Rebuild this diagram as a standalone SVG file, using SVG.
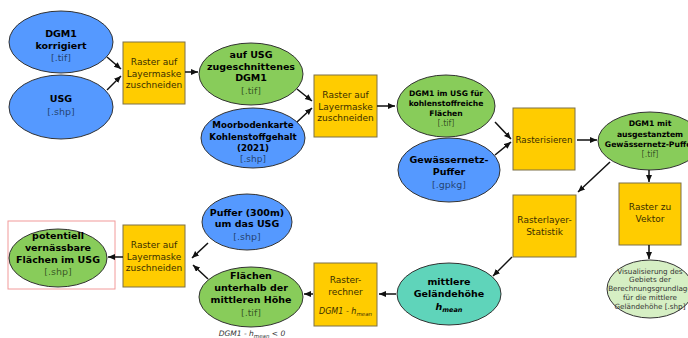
<svg xmlns="http://www.w3.org/2000/svg" width="688" height="338" viewBox="0 0 688 338">
<style>
text{font-family:"DejaVu Sans",Verdana,sans-serif;text-anchor:middle}
.b{font-weight:bold;fill:#000;font-size:9.5px}
.s{font-size:9.5px;fill:#000;fill-opacity:0.6}
.bl{fill:#5599ff;stroke:#333;stroke-width:1}
.gr{fill:#88cc5a;stroke:#333;stroke-width:1}
.tq{fill:#5fd4ba;stroke:#333;stroke-width:1}
.lg{fill:#d6efc4;stroke:#333;stroke-width:1}
.bx{fill:#ffcc00;stroke:#7d7048;stroke-width:1}
.bt{font-size:9px;fill:#3a2e00}
.c line{stroke:#111;stroke-width:1.5;marker-end:url(#a)}
</style>
<defs>
<marker id="a" markerUnits="userSpaceOnUse" markerWidth="8" markerHeight="7" refX="7" refY="3" orient="auto"><path d="M0,0 L7,3 L0,6 z" fill="#111"/></marker>
</defs>
<g id="n1"><ellipse class="bl" cx="61" cy="42" rx="52" ry="31"/><text class="b" x="61" y="37">DGM1</text><text class="b" x="61" y="49">korrigiert</text><text class="s" x="61" y="61">[.tif]</text></g>
<g id="n2"><ellipse class="bl" cx="61" cy="107" rx="52" ry="32"/><text class="b" x="61" y="102">USG</text><text class="s" x="61" y="115">[.shp]</text></g>
<g id="b1"><rect class="bx" x="123" y="42" width="62" height="62"/><text class="bt" x="154" y="65">Raster auf</text><text class="bt" x="154" y="77">Layermaske</text><text class="bt" x="154" y="88">zuschneiden</text></g>
<g id="n3"><ellipse class="gr" cx="251" cy="74" rx="52" ry="31"/><text class="b" x="251" y="58">auf USG</text><text class="b" x="251" y="70">zugeschnittenes</text><text class="b" x="251" y="81">DGM1</text><text class="s" x="251" y="94">[.tif]</text></g>
<g id="n4"><ellipse class="bl" cx="253" cy="138" rx="52" ry="30"/><text class="b" x="253" y="128" style="font-size:8.7px">Moorbodenkarte</text><text class="b" x="253" y="140" style="font-size:8.7px">Kohlenstoffgehalt</text><text class="b" x="253" y="151" style="font-size:8.7px">(2021)</text><text class="s" x="253" y="162" style="font-size:9px">[.shp]</text></g>
<g id="b2"><rect class="bx" x="314" y="75" width="63" height="62"/><text class="bt" x="345.5" y="98">Raster auf</text><text class="bt" x="345.5" y="110">Layermaske</text><text class="bt" x="345.5" y="121">zuschneiden</text></g>
<g id="n5"><ellipse class="gr" cx="446" cy="106" rx="49" ry="31"/><text class="b" x="446" y="96" style="font-size:7.6px">DGM1 im USG für</text><text class="b" x="446" y="106" style="font-size:7.6px">kohlenstoffreiche</text><text class="b" x="446" y="116" style="font-size:7.6px">Flächen</text><text class="s" x="446" y="126" style="font-size:8px">[.tif]</text></g>
<g id="n6"><ellipse class="bl" cx="449" cy="170" rx="51" ry="32"/><text class="b" x="449" y="163">Gewässernetz-</text><text class="b" x="449" y="175">Puffer</text><text class="s" x="449" y="188">[.gpkg]</text></g>
<g id="b3"><rect class="bx" x="513" y="108" width="62" height="62"/><text class="bt" x="544" y="143" style="font-size:8.7px">Rasterisieren</text></g>
<g id="n7"><ellipse class="gr" cx="650" cy="141" rx="52" ry="29"/><text class="b" x="650" y="126" style="font-size:7.7px">DGM1 mit</text><text class="b" x="650" y="137" style="font-size:7.7px">ausgestanztem</text><text class="b" x="650" y="147" style="font-size:7.7px">Gewässernetz-Puffer</text><text class="s" x="650" y="157" style="font-size:8px">[.tif]</text></g>
<g id="b4"><rect class="bx" x="619" y="183" width="62" height="62"/><text class="bt" x="650" y="210">Raster zu</text><text class="bt" x="650" y="222">Vektor</text></g>
<g id="n8"><ellipse class="lg" cx="650" cy="289" rx="43" ry="29"/><text x="650" y="273.5" style="font-size:7.2px;fill:#333">Visualisierung des</text><text x="650" y="282" style="font-size:7.2px;fill:#333">Gebiets der</text><text x="650" y="291" style="font-size:7.2px;fill:#333">Berechnungsgrundlage</text><text x="650" y="300" style="font-size:7.2px;fill:#333">für die mittlere</text><text x="650" y="309" style="font-size:7.2px;fill:#333">Geländehöhe [.shp]</text></g>
<g id="b5"><rect class="bx" x="513" y="195" width="63" height="62"/><text class="bt" x="544.5" y="223">Rasterlayer-</text><text class="bt" x="544.5" y="235">Statistik</text></g>
<g id="n9"><ellipse class="tq" cx="449" cy="294" rx="52" ry="31"/><text class="b" x="449" y="285">mittlere</text><text class="b" x="449" y="297">Geländehöhe</text><text class="b" x="449" y="310" style="font-style:italic">h<tspan style="font-size:6.5px" dy="2">mean</tspan></text></g>
<g id="b6"><rect class="bx" x="314" y="263" width="63" height="63"/><text class="bt" x="345.5" y="283">Raster-</text><text class="bt" x="345.5" y="295">rechner</text><text class="bt" x="345.5" y="314" style="font-style:italic;font-size:8px">DGM1 - h<tspan style="font-size:5.5px" dy="1.5">mean</tspan></text></g>
<g id="n10"><ellipse class="gr" cx="251" cy="297" rx="52" ry="30"/><text class="b" x="251" y="279">Flächen</text><text class="b" x="251" y="291">unterhalb der</text><text class="b" x="251" y="303">mittleren Höhe</text><text class="s" x="251" y="316">[.tif]</text><text x="252" y="336" style="font-size:7.5px;font-style:italic;fill:#333">DGM1 - h<tspan style="font-size:5.5px" dy="1.5">mean</tspan><tspan dy="-1.5"> &lt; 0</tspan></text></g>
<g id="n11"><ellipse class="bl" cx="247" cy="222" rx="45" ry="28"/><text class="b" x="247" y="216">Puffer (300m)</text><text class="b" x="247" y="227">um das USG</text><text class="s" x="247" y="240">[.shp]</text></g>
<g id="b7"><rect class="bx" x="123" y="225" width="62" height="62"/><text class="bt" x="154" y="248">Raster auf</text><text class="bt" x="154" y="260">Layermaske</text><text class="bt" x="154" y="271">zuschneiden</text></g>
<g id="n12"><rect x="8" y="221" width="107" height="68" fill="none" stroke="#f29a9a" stroke-width="1"/><ellipse class="gr" cx="58" cy="258" rx="49" ry="29"/><text class="b" x="58" y="239">potentiell</text><text class="b" x="58" y="251">vernässbare</text><text class="b" x="58" y="263">Flächen im USG</text><text class="s" x="58" y="275">[.shp]</text></g>
<g id="connectors" class="c">
<line x1="107" y1="57" x2="121" y2="69"/>
<line x1="107" y1="90" x2="121" y2="76"/>
<line x1="185" y1="72" x2="198" y2="72"/>
<line x1="297" y1="89" x2="312" y2="101"/>
<line x1="297" y1="122" x2="312" y2="108"/>
<line x1="377" y1="106" x2="395" y2="106"/>
<line x1="495" y1="122" x2="511" y2="139"/>
<line x1="495" y1="155" x2="511" y2="142"/>
<line x1="577" y1="140" x2="597" y2="140"/>
<line x1="649" y1="170" x2="649" y2="182"/>
<line x1="649" y1="245" x2="649" y2="259"/>
<line x1="610" y1="162" x2="578" y2="192"/>
<line x1="512" y1="257" x2="493" y2="276"/>
<line x1="396" y1="294" x2="379" y2="294"/>
<line x1="313" y1="294" x2="304" y2="294"/>
<line x1="208" y1="243" x2="192" y2="258"/>
<line x1="208" y1="279" x2="193" y2="265"/>
<line x1="123" y1="257" x2="108" y2="257"/>
</g>
</svg>
